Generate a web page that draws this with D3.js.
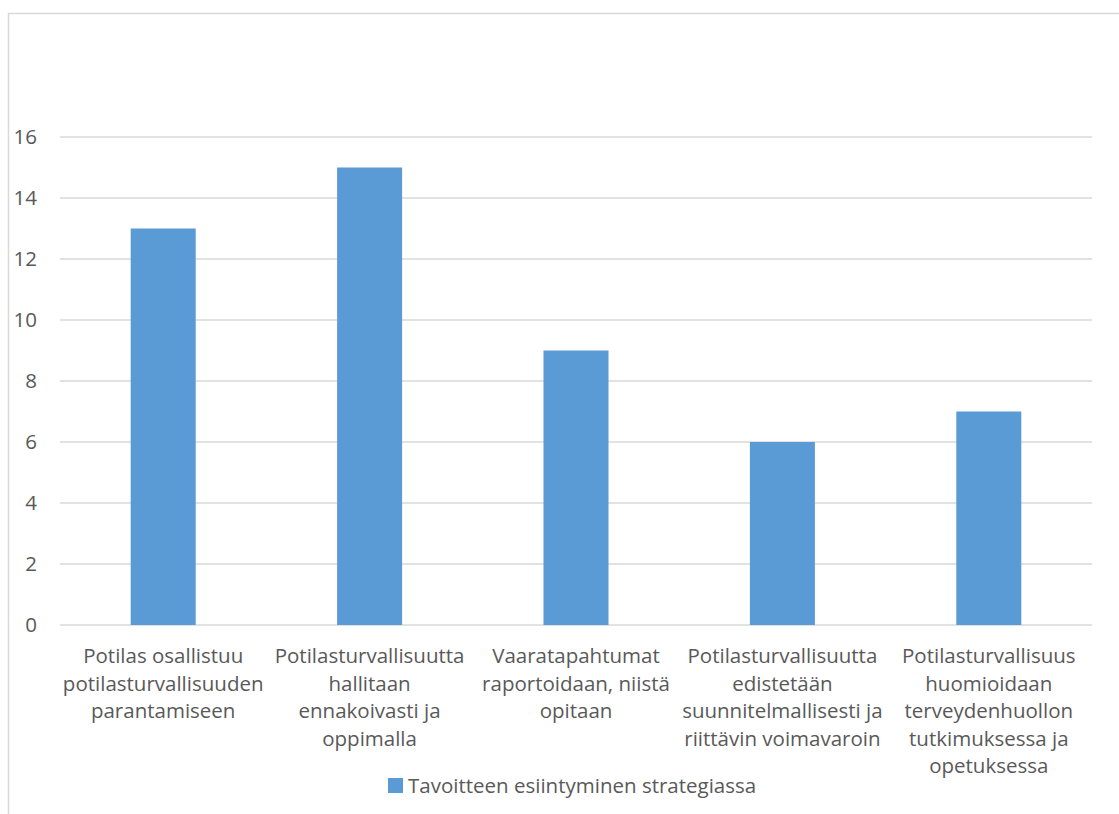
<!DOCTYPE html>
<html>
<head>
<meta charset="utf-8">
<script src="https://cdn.jsdelivr.net/npm/d3@7"></script>
<style>
  html, body { margin: 0; padding: 0; background: #fff; }
  svg text { font-family: "Open Sans", Lato, sans-serif; fill: #595959; }
</style>
</head>
<body>
<div id="chart"></div>
<script>
// Data
const categories = [
  ["Potilas osallistuu", "potilasturvallisuuden", "parantamiseen"],
  ["Potilasturvallisuutta", "hallitaan", "ennakoivasti ja", "oppimalla"],
  ["Vaaratapahtumat", "raportoidaan, niistä", "opitaan"],
  ["Potilasturvallisuutta", "edistetään", "suunnitelmallisesti ja", "riittävin voimavaroin"],
  ["Potilasturvallisuus", "huomioidaan", "terveydenhuollon", "tutkimuksessa ja", "opetuksessa"]
];
const values = [13, 15, 9, 6, 7];
const yTicks = [0, 2, 4, 6, 8, 10, 12, 14, 16];
const seriesName = "Tavoitteen esiintyminen strategiassa";

const W = 1119, H = 814;
const plot = { left: 60, right: 1092, top: 137, bottom: 625 };
const fontSize = 20.5;

const svg = d3.select('#chart').append('svg')
  .attr('width', W)
  .attr('height', H);

// chart area border (runs off the right and bottom)
svg.append('rect')
  .attr('x', 8.5).attr('y', 13.5)
  .attr('width', W + 20).attr('height', H + 20)
  .attr('fill', 'none')
  .attr('stroke', '#d9d9d9')
  .attr('stroke-width', 1.5);

const x = d3.scaleBand()
  .domain(d3.range(categories.length))
  .range([plot.left, plot.right])
  .paddingInner(0.685)
  .paddingOuter(0.3425);

const y = d3.scaleLinear()
  .domain([0, 16])
  .range([plot.bottom, plot.top]);

// gridlines
svg.append('g')
  .selectAll('line')
  .data(yTicks)
  .join('line')
  .attr('x1', plot.left).attr('x2', plot.right)
  .attr('y1', d => y(d)).attr('y2', d => y(d))
  .attr('stroke', '#d9d9d9')
  .attr('stroke-width', 1.3);

// y labels
svg.append('g')
  .selectAll('text')
  .data(yTicks)
  .join('text')
  .attr('x', 37)
  .attr('y', d => y(d))
  .attr('dy', '0.36em')
  .attr('text-anchor', 'end')
  .attr('font-size', fontSize)
  .text(d => d);

// bars
svg.append('g')
  .selectAll('rect')
  .data(values)
  .join('rect')
  .attr('x', (d, i) => x(i))
  .attr('y', d => y(d))
  .attr('width', x.bandwidth())
  .attr('height', d => y(0) - y(d))
  .attr('fill', '#5b9bd5');

// category labels
const catG = svg.append('g')
  .selectAll('text')
  .data(categories)
  .join('text')
  .attr('x', (d, i) => x(i) + x.bandwidth() / 2)
  .attr('y', plot.bottom + 38)
  .attr('text-anchor', 'middle')
  .attr('font-size', fontSize);

catG.selectAll('tspan')
  .data(d => d)
  .join('tspan')
  .attr('x', function () { return this.parentNode.getAttribute('x'); })
  .attr('dy', (d, i) => i === 0 ? 0 : 27.5)
  .text(d => d);

// legend
const legend = svg.append('g').attr('transform', 'translate(388,778)');
legend.append('rect')
  .attr('width', 15).attr('height', 15)
  .attr('fill', '#5b9bd5');
legend.append('text')
  .attr('x', 20).attr('y', 14.5)
  .attr('font-size', fontSize)
  .text(seriesName);
</script>
</body>
</html>
